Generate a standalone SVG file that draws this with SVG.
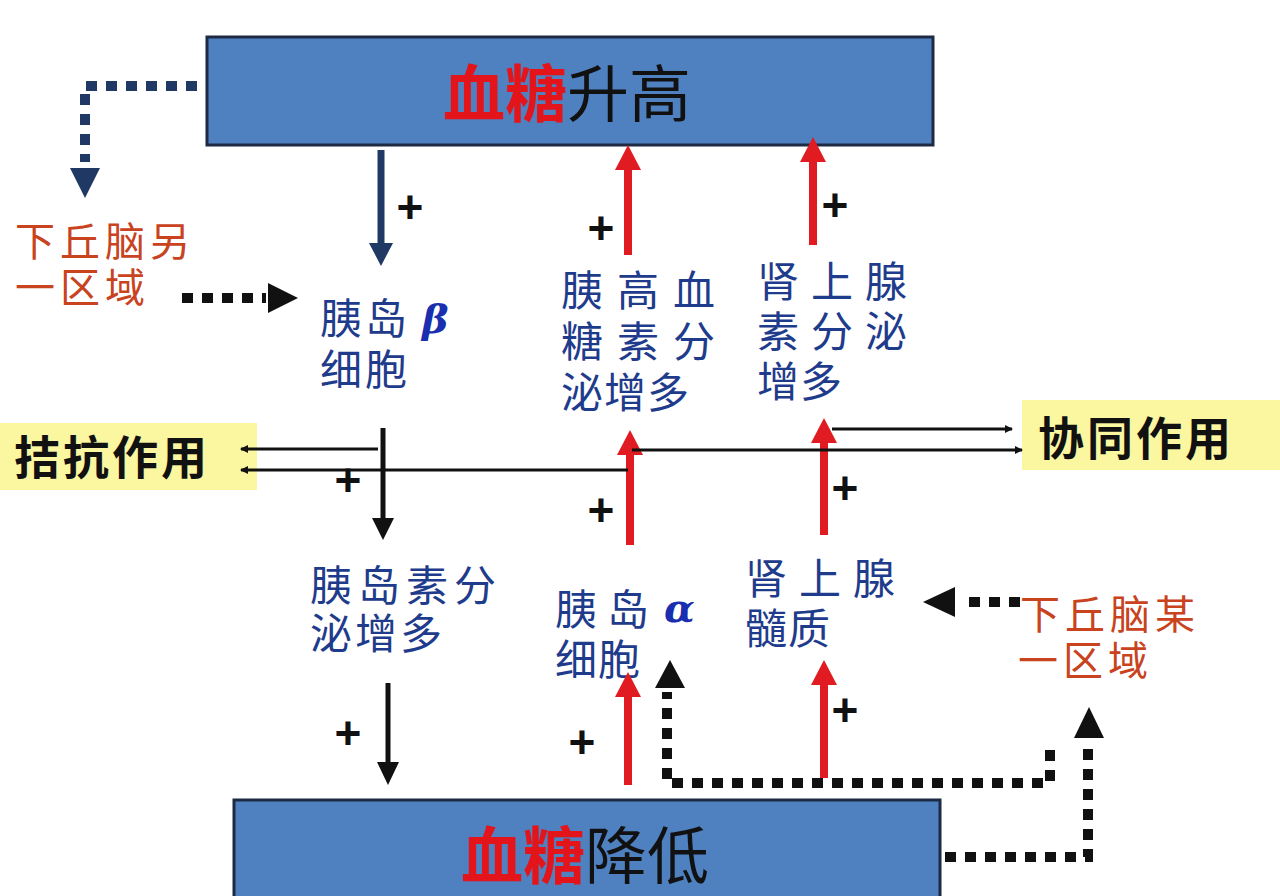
<svg xmlns="http://www.w3.org/2000/svg" width="1280" height="896" viewBox="0 0 1280 896">
<defs>
<style>
.box{fill:#4f80c0;stroke:#1c2a44;stroke-width:3}
.big{font-family:"Noto Sans CJK SC",sans-serif;font-size:62px}
.red{fill:#e3141a;font-weight:bold}
.blk{fill:#111}
.lbl{font-family:"Noto Sans CJK SC",sans-serif;font-size:42px;fill:#1f3c8c}
.org{font-family:"Noto Sans CJK SC",sans-serif;font-size:40px;fill:#c8431e}
.greek{font-family:"DejaVu Serif",serif;font-weight:bold;font-style:italic;fill:#1a2fb0;font-size:40px}
.yel{fill:#fbf6a0}
.tag{font-family:"Noto Sans CJK SC",sans-serif;font-size:46px;font-weight:bold;fill:#111}
.plus{font-family:"Liberation Sans",sans-serif;font-size:46px;font-weight:bold;fill:#111;text-anchor:middle}
.navyA{stroke:#1f3864;stroke-width:7;fill:none}
.redA{stroke:#e01b22;stroke-width:8;fill:none}
.blkA{stroke:#111;stroke-width:5;fill:none}
.thin{stroke:#111;stroke-width:3;fill:none}
.dotK{stroke:#111;stroke-width:10;stroke-dasharray:11 9;fill:none}
.dotN{stroke:#1f3864;stroke-width:10;stroke-dasharray:11 9;fill:none}
</style>
<marker id="ta" markerWidth="8" markerHeight="8" refX="7" refY="4" orient="auto" markerUnits="userSpaceOnUse">
<path d="M0,0 L8,4 L0,8 Z" fill="#111"/>
</marker>
</defs>
<rect width="1280" height="896" fill="#fff"/>

<g id="top">
<rect class="box" x="207" y="37" width="726" height="108"/>
<text class="big" x="443" y="117"><tspan class="red">血糖</tspan><tspan class="blk">升高</tspan></text>
</g>

<g id="bottom">
<rect class="box" x="234" y="800" width="706" height="110"/>
<text class="big" x="461" y="879"><tspan class="red">血糖</tspan><tspan class="blk">降低</tspan></text>
</g>

<g id="hypo1">
<text class="org" letter-spacing="5"><tspan x="15" y="256">下丘脑另</tspan><tspan x="15" y="302">一区域</tspan></text>
</g>

<g id="hypo2">
<text class="org" letter-spacing="5"><tspan x="1020" y="629">下丘脑某</tspan><tspan x="1018" y="675">一区域</tspan></text>
</g>

<g id="beta">
<text class="lbl" letter-spacing="3"><tspan x="320" y="334">胰岛</tspan><tspan class="greek" x="422" y="333">β</tspan><tspan x="320" y="385">细胞</tspan></text>
</g>

<g id="glucagon">
<text class="lbl"><tspan x="561" y="306" letter-spacing="14">胰高血</tspan><tspan x="561" y="357" letter-spacing="14">糖素分</tspan><tspan x="561" y="408" letter-spacing="1">泌增多</tspan></text>
</g>

<g id="adrenaline">
<text class="lbl"><tspan x="757" y="297" letter-spacing="12">肾上腺</tspan><tspan x="757" y="347" letter-spacing="12">素分泌</tspan><tspan x="757" y="397" letter-spacing="1">增多</tspan></text>
</g>

<g id="insulin">
<text class="lbl"><tspan x="310" y="601" letter-spacing="6">胰岛素分</tspan><tspan x="310" y="649" letter-spacing="3">泌增多</tspan></text>
</g>

<g id="alpha">
<text class="lbl"><tspan x="555" y="625" letter-spacing="10">胰岛</tspan><tspan class="greek" x="664" y="622">α</tspan><tspan x="555" y="675" letter-spacing="1">细胞</tspan></text>
</g>

<g id="medulla">
<text class="lbl"><tspan x="745" y="594" letter-spacing="12">肾上腺</tspan><tspan x="745" y="644" letter-spacing="1">髓质</tspan></text>
</g>

<g id="antagonism">
<rect class="yel" x="0" y="423" width="257" height="67"/>
<text class="tag" x="14" y="474" letter-spacing="3">拮抗作用</text>
</g>

<g id="synergy">
<rect class="yel" x="1022" y="400" width="258" height="70"/>
<text class="tag" x="1038" y="455" letter-spacing="3">协同作用</text>
</g>

<g id="connectors">
<line class="navyA" x1="381" y1="150" x2="381" y2="245"/>
<polygon points="369,243 393,243 381,266" fill="#1f3864"/>

<line class="redA" x1="628" y1="255" x2="628" y2="166"/>
<polygon points="615,170 641,170 628,145" fill="#e01b22"/>
<line class="redA" x1="813" y1="245" x2="813" y2="158"/>
<polygon points="800,162 826,162 813,137" fill="#e01b22"/>

<line class="blkA" x1="383" y1="428" x2="383" y2="520"/>
<polygon points="372,518 394,518 383,540" fill="#111"/>

<line class="redA" x1="630" y1="545" x2="630" y2="452"/>
<polygon points="617,455 643,455 630,430" fill="#e01b22"/>
<line class="redA" x1="824" y1="535" x2="824" y2="440"/>
<polygon points="811,443 837,443 824,418" fill="#e01b22"/>

<line class="blkA" x1="388" y1="683" x2="388" y2="764"/>
<polygon points="377,762 399,762 388,785" fill="#111"/>

<line class="redA" x1="628" y1="785" x2="628" y2="694"/>
<polygon points="615,697 641,697 628,672" fill="#e01b22"/>
<line class="redA" x1="824" y1="778" x2="824" y2="682"/>
<polygon points="811,685 837,685 824,660" fill="#e01b22"/>

<line class="thin" x1="378" y1="449" x2="241" y2="449" marker-end="url(#ta)"/>
<line class="thin" x1="628" y1="470" x2="241" y2="470" marker-end="url(#ta)"/>
<line class="thin" x1="832" y1="429" x2="1012" y2="429" marker-end="url(#ta)"/>
<line class="thin" x1="632" y1="450" x2="1022" y2="450" marker-end="url(#ta)"/>

<path class="dotN" d="M197,86 H85 V162"/>
<polygon points="70,168 100,168 85,198" fill="#1f3864"/>

<path class="dotK" d="M182,298 H266"/>
<polygon points="268,283 268,313 298,298" fill="#111"/>

<path class="dotK" d="M1020,602 H960"/>
<polygon points="955,587 955,617 923,602" fill="#111"/>

<path class="dotK" d="M1050,750 V783 H667 V692"/>
<polygon points="655,688 685,688 670,660" fill="#111"/>

<path class="dotK" d="M945,857 H1088 V742"/>
<polygon points="1074,738 1104,738 1089,707" fill="#111"/>

<text class="plus" x="410" y="223">+</text>
<text class="plus" x="601" y="244">+</text>
<text class="plus" x="835" y="221">+</text>
<text class="plus" x="348" y="496">+</text>
<text class="plus" x="601" y="526">+</text>
<text class="plus" x="845" y="504">+</text>
<text class="plus" x="348" y="749">+</text>
<text class="plus" x="582" y="758">+</text>
<text class="plus" x="845" y="726">+</text>
</g>
</svg>
